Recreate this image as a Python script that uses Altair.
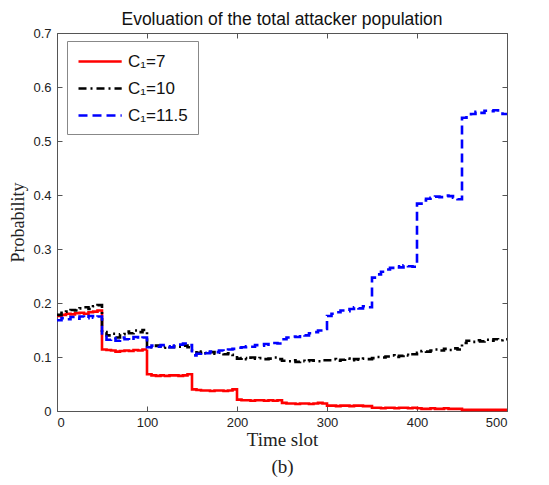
import altair as alt
import pandas as pd

# ---- data (every 5 time slots, 0..495) ----
red_c7 = [
    0.176, 0.178, 0.180, 0.179, 0.181, 0.182, 0.180, 0.183, 0.184, 0.186,
    0.114, 0.113, 0.112, 0.110, 0.111, 0.112, 0.111, 0.113, 0.112, 0.114,
    0.068, 0.066, 0.065, 0.066, 0.065, 0.066, 0.066, 0.065, 0.066, 0.068,
    0.040, 0.039, 0.038, 0.038, 0.037, 0.038, 0.038, 0.037, 0.038, 0.040,
    0.021, 0.020, 0.020, 0.019, 0.020, 0.020, 0.019, 0.020, 0.019, 0.020,
    0.015, 0.014, 0.014, 0.013, 0.014, 0.014, 0.013, 0.014, 0.015, 0.014,
    0.010, 0.010, 0.009, 0.010, 0.010, 0.009, 0.010, 0.010, 0.009, 0.009,
    0.006, 0.006, 0.005, 0.006, 0.006, 0.005, 0.006, 0.006, 0.005, 0.006,
    0.005, 0.004, 0.004, 0.005, 0.004, 0.004, 0.005, 0.004, 0.004, 0.004,
    0.002, 0.002, 0.002, 0.002, 0.002, 0.002, 0.002, 0.002, 0.002, 0.002,
]
black_c10 = [
    0.178, 0.182, 0.184, 0.187, 0.186, 0.190, 0.192, 0.189, 0.194, 0.196,
    0.146, 0.140, 0.143, 0.136, 0.142, 0.147, 0.144, 0.149, 0.146, 0.150,
    0.120, 0.118, 0.121, 0.117, 0.119, 0.118, 0.120, 0.119, 0.121, 0.118,
    0.112, 0.108, 0.110, 0.107, 0.109, 0.106, 0.108, 0.105, 0.107, 0.104,
    0.097, 0.098, 0.096, 0.099, 0.097, 0.098, 0.096, 0.097, 0.099, 0.096,
    0.093, 0.092, 0.094, 0.091, 0.093, 0.092, 0.094, 0.093, 0.092, 0.094,
    0.094, 0.096, 0.093, 0.095, 0.097, 0.094, 0.096, 0.095, 0.097, 0.096,
    0.098, 0.100, 0.099, 0.101, 0.103, 0.100, 0.102, 0.104, 0.103, 0.105,
    0.108, 0.111, 0.110, 0.112, 0.114, 0.112, 0.115, 0.113, 0.116, 0.114,
    0.126, 0.130, 0.128, 0.131, 0.129, 0.132, 0.130, 0.133, 0.131, 0.133,
]
blue_c115 = [
    0.168, 0.172, 0.170, 0.174, 0.171, 0.175, 0.172, 0.176, 0.173, 0.175,
    0.138, 0.132, 0.135, 0.130, 0.136, 0.133, 0.131, 0.137, 0.134, 0.136,
    0.118, 0.121, 0.119, 0.122, 0.120, 0.118, 0.121, 0.123, 0.125, 0.122,
    0.103, 0.106, 0.108, 0.107, 0.110, 0.109, 0.112, 0.111, 0.114, 0.115,
    0.117, 0.118, 0.120, 0.119, 0.122, 0.121, 0.124, 0.123, 0.126, 0.125,
    0.133, 0.136, 0.138, 0.137, 0.141, 0.140, 0.144, 0.146, 0.149, 0.152,
    0.176, 0.180, 0.183, 0.186, 0.185, 0.189, 0.192, 0.190, 0.194, 0.192,
    0.247, 0.253, 0.258, 0.262, 0.265, 0.268, 0.266, 0.270, 0.268, 0.267,
    0.384, 0.390, 0.393, 0.395, 0.397, 0.396, 0.399, 0.398, 0.395, 0.392,
    0.543, 0.547, 0.550, 0.554, 0.552, 0.556, 0.555, 0.557, 0.554, 0.550,
]
time_slots = list(range(0, 500, 5)) + [500]
series_names = ["C\u2081=7", "C\u2081=10", "C\u2081=11.5"]
series_values = [red_c7, black_c10, blue_c115]
x_ticks = [0, 100, 200, 300, 400, 500]
y_ticks = [0, 0.1, 0.2, 0.3, 0.4, 0.5, 0.6, 0.7]

rows = []
for name, vals in zip(series_names, series_values):
    full = vals + [vals[-1]]
    for t, v in zip(time_slots, full):
        rows.append({"t": t, "p": v, "series": name})
df = pd.DataFrame(rows)

SANS = "Liberation Sans"
SERIF = "Liberation Serif"

x_scale = alt.Scale(domain=[0, 500], nice=False)
y_scale = alt.Scale(domain=[0, 0.7], nice=False)

main = alt.Chart(df).mark_line(strokeWidth=2.6, interpolate="step-after").encode(
    x=alt.X("t:Q", scale=x_scale,
            axis=alt.Axis(values=x_ticks, title=["Time slot", "(b)"], titleFont=SERIF,
                          titleFontSize=19, titleFontWeight="normal", titleColor="#222",
                          titleLineHeight=27, titlePadding=1,
                          labelFont=SANS, labelFontSize=13, labelColor="#222",
                          labelPadding=5, domain=False, offset=-5, tickSize=5,
                          tickColor="#555", grid=False)),
    y=alt.Y("p:Q", scale=y_scale,
            axis=alt.Axis(values=y_ticks, format="~g", title="Probability", titleFont=SERIF,
                          titleFontSize=18, titleFontWeight="normal", titleColor="#222",
                          titlePadding=5, labelFont=SANS, labelFontSize=13,
                          labelColor="#222", labelPadding=6, domain=False, offset=-5,
                          tickSize=5, tickColor="#555", grid=False)),
    color=alt.Color("series:N",
                    scale=alt.Scale(domain=series_names, range=["#ff0000", "#000000", "#0000ff"]),
                    legend=alt.Legend(title=None, orient="none", legendX=10, legendY=8,
                                      labelFont=SANS, labelFontSize=17, labelColor="#111",
                                      symbolType="M-1,0H3.8", symbolSize=324,
                                      symbolStrokeWidth=2.6, rowPadding=8,
                                      padding=10, strokeColor="#888", fillColor="white",
                                      cornerRadius=0, labelOffset=30)),
    strokeDash=alt.StrokeDash("series:N",
                              scale=alt.Scale(domain=series_names,
                                              range=[[1, 0], [8, 4, 2, 4], [9, 5]]),
                              legend=alt.Legend(title=None)),
)

frame = alt.Chart(df).mark_line(opacity=0).encode(
    x=alt.X("t:Q", scale=x_scale,
            axis=alt.Axis(orient="top", values=x_ticks, labels=False, title=None,
                          domain=False, offset=-5, tickSize=5, tickColor="#555", grid=False)),
    y=alt.Y("p:Q", scale=y_scale,
            axis=alt.Axis(orient="right", values=y_ticks, labels=False, title=None,
                          domain=False, offset=-5, tickSize=5, tickColor="#555", grid=False)),
)

chart = alt.layer(main, frame).resolve_axis(x="independent", y="independent").properties(
    width=450, height=378,
    title=alt.Title("Evoluation of the total attacker population", font=SANS, fontSize=17.5,
                    fontWeight="normal", color="#111", anchor="middle", offset=-1),
    padding={"left": 49, "top": 25, "right": 30, "bottom": 70},
    autosize="none",
).configure_view(stroke="#555", strokeWidth=1)

chart.save("out.html", embed_options={"renderer": "svg", "actions": False})
